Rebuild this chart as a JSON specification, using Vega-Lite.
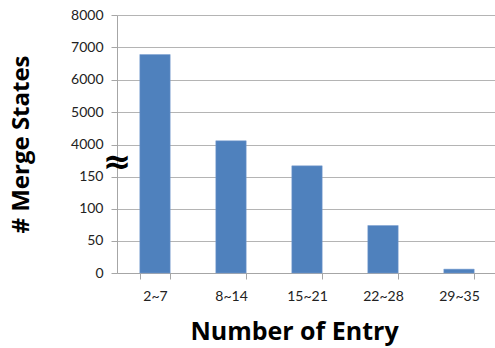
{
  "$schema": "https://vega.github.io/schema/vega-lite/v6.json",
  "autosize": {"type": "none"},
  "padding": {"left": 117, "top": 15, "right": 0, "bottom": 75},
  "width": 380,
  "height": 258,
  "config": {
    "view": {"stroke": null},
    "font": "Lato"
  },
  "layer": [
    {
      "data": {"values": [
        {"entry": "2~7", "count": 6780},
        {"entry": "8~14", "count": 4120},
        {"entry": "15~21", "count": 167},
        {"entry": "22~28", "count": 74},
        {"entry": "29~35", "count": 6}
      ]},
      "mark": {"type": "bar", "color": "#4f81bd", "stroke": "#7a9fd0", "strokeWidth": 0.5},
      "encoding": {
        "x": {
          "field": "entry", "type": "nominal", "sort": null,
          "scale": {"paddingInner": 0.6, "paddingOuter": 0.3},
          "axis": {
            "title": "Number of Entry", "labelAngle": 0, "tickBand": "extent",
            "labelFontSize": 14, "labelColor": "#222", "labelPadding": 10,
            "titleFont": "Open Sans", "titleFontSize": 25, "titleFontWeight": "bold", "titleColor": "#000", "titlePadding": 16,
            "titleX": 177,
            "domainColor": "#a6a6a6", "tickColor": "#a6a6a6", "tickSize": 6, "grid": false
          }
        },
        "y": {
          "field": "count", "type": "quantitative",
          "scale": {"domain": [0, 200, 4000, 8000], "range": [258, 129.7, 129.7, 0], "nice": false, "zero": false, "clamp": true},
          "axis": {
            "title": "# Merge States",
            "values": [0, 50, 100, 150, 4000, 5000, 6000, 7000, 8000],
            "tickCount": 20,
            "labelOverlap": false,
            "labelFontSize": 14, "labelColor": "#222", "labelPadding": 8,
            "titleFont": "Open Sans", "titleFontSize": 24, "titleFontWeight": "bold", "titleColor": "#000", "titlePadding": 37,
            "domainColor": "#a6a6a6", "tickColor": "#a6a6a6", "tickSize": 6,
            "grid": true, "gridColor": "#b4b4b4", "format": "d"
          }
        }
      }
    },
    {
      "data": {"values": [{"label": "≈", "count": 172}]},
      "mark": {"type": "text", "font": "DejaVu Sans", "fontSize": 34, "fontWeight": "bold", "color": "#000", "align": "center", "baseline": "middle"},
      "encoding": {
        "x": {"value": 0},
        "y": {"field": "count", "type": "quantitative"},
        "text": {"field": "label"}
      }
    }
  ]
}
